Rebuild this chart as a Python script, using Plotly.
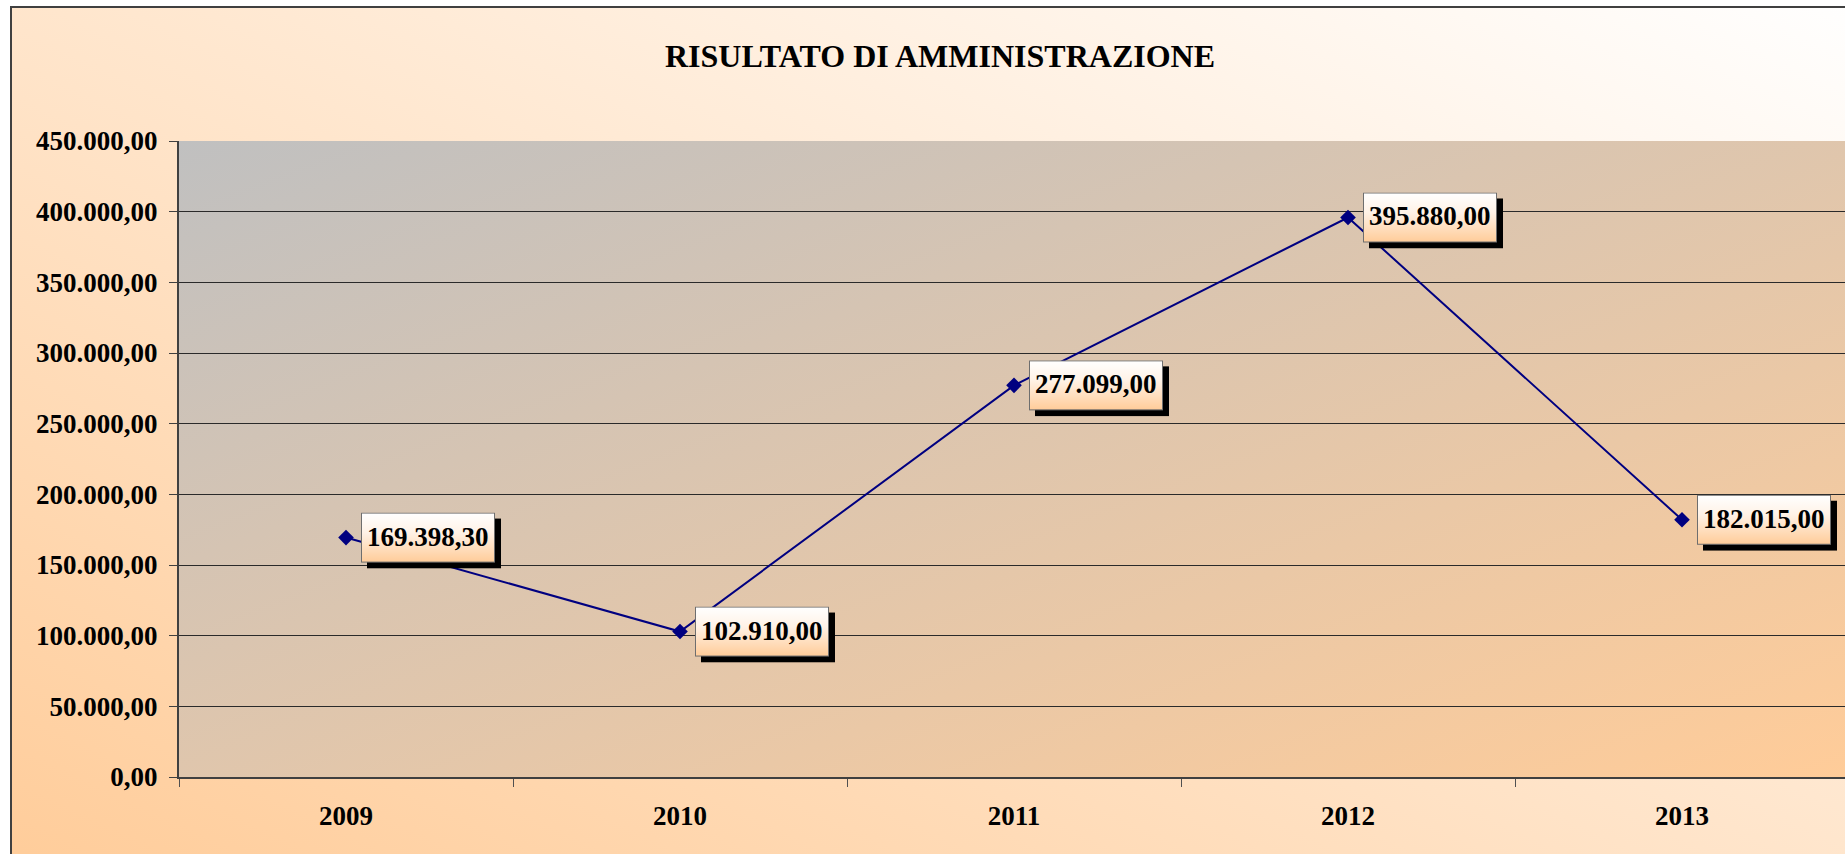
import base64
import plotly.graph_objects as go

# ---------------- data ----------------
years = ["2009", "2010", "2011", "2012", "2013"]
values = [169398.30, 102910.00, 277099.00, 395880.00, 182015.00]
title_text = "RISULTATO DI AMMINISTRAZIONE"
y_max = 450000
y_step = 50000

# ---------------- layout geometry ----------------
W, H = 1845, 854
ML, MT, MB = 179, 141, 77
PW = W - ML
PH = H - MT - MB
cat_px = 334.0
x_min = -0.5
x_max = x_min + PW / cat_px

ux = (x_max - x_min) / PW     # data units per px (x)
uy = y_max / PH               # data units per px (y)

FONT = "Liberation Serif, Times New Roman, serif"


def svg_uri(svg):
    return "data:image/svg+xml;base64," + base64.b64encode(svg.encode("utf-8")).decode("ascii")


def it_fmt(v):
    s = f"{v:,.2f}"
    return s.replace(",", "X").replace(".", ",").replace("X", ".")


# background: outer chart area + plot area gradients (diagonal, bounding-box based)
bg_svg = f"""<svg xmlns='http://www.w3.org/2000/svg' width='{W}' height='{H}' viewBox='0 0 {W} {H}' preserveAspectRatio='none'>
<defs>
<linearGradient id='o' x1='0' y1='1' x2='1' y2='0'>
<stop offset='0' stop-color='#FFCC99'/><stop offset='1' stop-color='#FFFFFF'/></linearGradient>
<linearGradient id='p' x1='0' y1='0' x2='1' y2='1'>
<stop offset='0' stop-color='#C0C0C0'/><stop offset='1' stop-color='#FFCC99'/></linearGradient>
</defs>
<rect x='0' y='0' width='{W}' height='{H}' fill='#FFFFFF'/>
<rect x='11' y='7' width='{W + 30}' height='{H + 20}' fill='url(#o)' stroke='#404040' stroke-width='2'/>
<rect x='{ML}' y='{MT}' width='{PW + 4}' height='{PH}' fill='url(#p)'/>
</svg>"""

BW, BH, SH = 134, 50, 6
box_svg = f"""<svg xmlns='http://www.w3.org/2000/svg' width='{BW + SH}' height='{BH + SH}' viewBox='0 0 {BW + SH} {BH + SH}' preserveAspectRatio='none'>
<defs><linearGradient id='g' x1='0' y1='0' x2='0' y2='1'>
<stop offset='0' stop-color='#FFFFFF'/><stop offset='0.4' stop-color='#FFF2E6'/><stop offset='1' stop-color='#FFCC99'/></linearGradient></defs>
<rect x='{SH}' y='{SH}' width='{BW}' height='{BH}' fill='#000000'/>
<rect x='0.5' y='0.5' width='{BW - 1}' height='{BH - 1}' fill='url(#g)' stroke='#6E6E6E' stroke-width='1'/>
</svg>"""
box_uri = svg_uri(box_svg)

x_idx = list(range(len(years)))

fig = go.Figure()
fig.add_trace(go.Scatter(
    x=x_idx, y=values, mode="lines+markers",
    line=dict(color="#000080", width=2),
    marker=dict(symbol="diamond", size=12, color="#000080"),
    hoverinfo="skip", showlegend=False,
))

images = [dict(
    source=svg_uri(bg_svg), xref="paper", yref="paper",
    x=-ML / PW, y=1 + MT / PH, sizex=W / PW, sizey=H / PH,
    xanchor="left", yanchor="top", sizing="stretch", layer="below",
)]
annotations = []
OFF = 15
for xi, v in zip(x_idx, values):
    images.append(dict(
        source=box_uri, xref="x", yref="y",
        x=xi + OFF * ux, y=v + (BH / 2) * uy,
        sizex=(BW + SH) * ux, sizey=(BH + SH) * uy,
        xanchor="left", yanchor="top", sizing="stretch", layer="above",
    ))
    annotations.append(dict(
        x=xi, y=v, xref="x", yref="y", text=it_fmt(v), showarrow=False,
        xshift=OFF + BW / 2, yshift=1, xanchor="center", yanchor="middle",
        font=dict(family=FONT, size=27, color="#000000", weight="bold"),
    ))

fig.update_layout(
    width=W, height=H,
    margin=dict(l=ML, r=0, t=MT, b=MB, pad=0),
    paper_bgcolor="#FFFFFF",
    plot_bgcolor="rgba(0,0,0,0)",
    separators=",.",
    images=images,
    annotations=annotations,
    title=dict(
        text=title_text, xref="container", yref="container",
        x=940 / W, y=1 - 56 / H, xanchor="center", yanchor="middle",
        font=dict(family=FONT, size=32, color="#000000", weight="bold"),
    ),
    xaxis=dict(
        range=[x_min, x_max], tickmode="array", tickvals=x_idx, ticktext=years,
        ticks="", showgrid=False, zeroline=False,
        showline=True, linecolor="#404040", linewidth=2,
        ticklabelstandoff=14,
        tickfont=dict(family=FONT, size=27, color="#000000", weight="bold"),
        minor=dict(tick0=-0.5, dtick=1, ticks="outside", ticklen=8,
                   tickcolor="#505050", tickwidth=1, showgrid=False),
        fixedrange=True,
    ),
    yaxis=dict(
        range=[0, y_max], dtick=y_step, tick0=0, tickformat=",.2f",
        ticks="outside", ticklen=8, tickcolor="#404040", tickwidth=1,
        showgrid=True, gridcolor="#2A2A2A", gridwidth=1, zeroline=False,
        showline=True, linecolor="#404040", linewidth=2,
        ticklabelstandoff=6,
        tickfont=dict(family=FONT, size=27, color="#000000", weight="bold"),
        fixedrange=True,
    ),
)

fig.write_html(
    "out.html",
    config={"displayModeBar": False},
    post_script="document.body.style.margin='0px';document.body.style.overflow='hidden';",
)
